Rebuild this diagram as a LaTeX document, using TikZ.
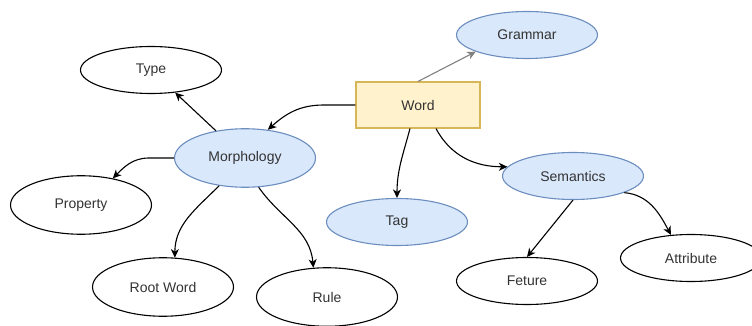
\documentclass[tikz,border=0pt]{standalone}
\usepackage{fontspec}
\setmainfont{Liberation Sans}
\usetikzlibrary{shapes.geometric, arrows.meta}

\definecolor{blueFill}{HTML}{DAE8FC}
\definecolor{blueLine}{HTML}{6C8EBF}
\definecolor{yellowFill}{HTML}{FFF2CC}
\definecolor{yellowLine}{HTML}{D6B656}
\definecolor{labelText}{HTML}{333333}

\tikzset{
 leaf/.style = {ellipse, draw=black, line width=1.1pt, fill=white, minimum width=141pt, minimum height=47pt, inner sep=0pt, text=labelText, font=\fontsize{14}{16}\selectfont},
 bigleaf/.style = {leaf, minimum height=58.5pt},
 topic/.style = {leaf, draw=blueLine, fill=blueFill},
 wordbox/.style = {rectangle, draw=yellowLine, fill=yellowFill, line width=1.1pt, minimum width=124pt, minimum height=46pt, inner sep=0pt, text=labelText, font=\fontsize{14}{16}\selectfont},
 link/.style = {->, line width=1.1pt}
}

\begin{document}
\begin{tikzpicture}[x=1pt, y=-1pt, >={Stealth[length=8.5pt, width=8pt, inset=2.5pt]}]
\useasboundingbox (0,0) rectangle (752,326);

\node[wordbox] (word) at (418,105) {Word};
\node[topic] (gram) at (527,35) {Grammar};
\node[topic, minimum height=58.5pt] (morph) at (245,158) {Morphology};
\node[topic] (tag) at (397,222) {Tag};
\node[topic] (sem) at (573,176) {Semantics};

\node[leaf] (type) at (151,70) {Type};
\node[bigleaf] (prop) at (81,205) {Property};
\node[bigleaf] (root) at (163,287) {Root Word};
\node[bigleaf] (rule) at (327,297) {Rule};
\node[leaf] (fet) at (527,281) {Feture};
\node[leaf] (attr) at (691,258) {Attribute};

\draw[link] (word.west) -- ++(-32,0) to[out=180, in=42] (morph.51);
\draw[link, draw=black!50] (word.north) -- (gram.198);
\draw[link] ([xshift=-8pt]word.south) to[out=255, in=90] (tag.north);
\draw[link] ([xshift=18pt]word.south) to[out=-62, in=180] (sem.172);

\draw[link] (morph) -- (type);
\draw[link] (morph.west) -- ++(-25,0) to[out=180, in=45] (prop.40);
\draw[link] (morph.227) to[out=225, in=90] (root.68);
\draw[link] (morph.-65) to[out=-55, in=95] (rule.115);

\draw[link] (sem.south) -- (fet.north);
\draw[link] (sem.-18) to[out=-5, in=118] (attr.131);

\end{tikzpicture}
\end{document}
